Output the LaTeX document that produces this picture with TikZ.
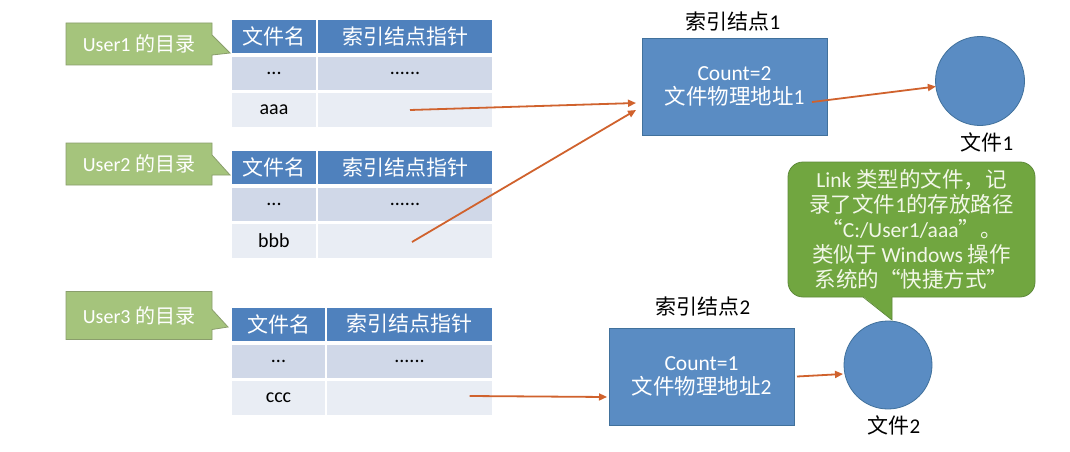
\documentclass[tikz,border=0pt]{standalone}
\usepackage{fontspec}
\setmainfont{Carlito}
\newfontfamily\cjkf{Noto Sans CJK SC}
\newcommand\zh[1]{{\cjkf #1}}
\usetikzlibrary{shapes.callouts,arrows.meta}
\definecolor{hdr}{HTML}{4F81BD}
\definecolor{rowa}{HTML}{D0D8E8}
\definecolor{rowb}{HTML}{E9EDF4}
\definecolor{nodeblue}{HTML}{5A8CC3}
\definecolor{nodeborder}{HTML}{41719C}
\definecolor{callg}{HTML}{A5C47C}
\definecolor{callgd}{HTML}{8A9E6C}
\definecolor{bigg}{HTML}{71A640}
\definecolor{biggd}{HTML}{5E8A3A}
\definecolor{biggtext}{HTML}{F2F7E8}
\definecolor{arr}{HTML}{D0622D}
\tikzset{
  base/.style={inner sep=0pt, outer sep=0pt, font=\fontsize{21}{25}\selectfont},
  hcell/.style={base, fill=hdr, text=white, minimum height=33pt},
  acell/.style={base, fill=rowa, text=black, minimum height=33pt, font=\fontsize{20}{24}\selectfont},
  bcell/.style={base, fill=rowb, text=black, minimum height=34pt, font=\fontsize{20}{24}\selectfont},
  dircall/.style={base, rectangle callout, fill=callg, draw=callgd, line width=0.8pt, text=white,
    minimum width=146pt, minimum height=42pt, callout pointer width=20pt, font=\fontsize{20}{24}\selectfont},
  inode/.style={base, fill=nodeblue, draw=nodeborder, line width=0.8pt, text=white, align=center,
    font=\fontsize{21.5}{24}\selectfont},
  filec/.style={base, circle, fill=nodeblue, draw=nodeborder, line width=0.8pt},
  lbl/.style={base, text=black, font=\fontsize{21}{25}\selectfont},
  conn/.style={draw=arr, line width=1.8pt, -{Triangle[length=8pt,width=7pt]}},
}
\begin{document}
\begin{tikzpicture}[x=1pt,y=-1pt]
\useasboundingbox[fill=white] (0,0) rectangle (1070,452);

% ---- Table 1
\node[hcell, minimum width=84pt]  (t1h1) at (274,36.5) {\zh{文件名}};
\node[hcell, minimum width=174pt] (t1h2) at (405,36.5) {\zh{索引结点指针}};
\node[acell, minimum width=84pt]  (t1a1) at (274,73.5) {...};
\node[acell, minimum width=174pt] (t1a2) at (405,73.5) {......};
\node[bcell, minimum width=84pt]  (t1b1) at (274,110) {aaa};
\node[bcell, minimum width=174pt] (t1b2) at (405,110) {};

% ---- Table 2
\node[hcell, minimum width=84pt]  (t2h1) at (274,167.5) {\zh{文件名}};
\node[hcell, minimum width=174pt] (t2h2) at (405,167.5) {\zh{索引结点指针}};
\node[acell, minimum width=84pt]  (t2a1) at (274,204.5) {...};
\node[acell, minimum width=174pt] (t2a2) at (405,204.5) {......};
\node[bcell, minimum width=84pt]  (t2b1) at (274,241) {bbb};
\node[bcell, minimum width=174pt] (t2b2) at (405,241) {};

% ---- Table 3
\node[hcell, minimum width=93pt]  (t3h1) at (278.5,324) {\zh{文件名}};
\node[hcell, minimum width=165pt] (t3h2) at (409.5,324) {\zh{索引结点指针}};
\node[acell, minimum width=93pt]  (t3a1) at (278.5,361.5) {...};
\node[acell, minimum width=165pt] (t3a2) at (409.5,361.5) {......};
\node[bcell, minimum width=93pt]  (t3b1) at (278.5,397.5) {ccc};
\node[bcell, minimum width=165pt] (t3b2) at (409.5,397.5) {};

% ---- Directory callouts
\node[dircall, callout absolute pointer={(230,53)}]  (u1) at (139,44)  {User1 \zh{的目录}};
\node[dircall, callout absolute pointer={(230,175)}] (u2) at (139,164) {User2 \zh{的目录}};
\node[dircall, callout absolute pointer={(228,327)}, minimum height=48pt] (u3) at (139,315.5) {User3 \zh{的目录}};

% ---- Index nodes
\node[inode, minimum width=185pt, minimum height=97pt] (i1) at (734.5,86.5)
  {Count=2\\\zh{文件物理地址}1};
\node[lbl] (i1l) at (733,22) {\zh{索引结点}1};
\node[inode, minimum width=185pt, minimum height=97pt] (i2) at (701.5,376.5)
  {Count=1\\\zh{文件物理地址}2};
\node[lbl] (i2l) at (703,307) {\zh{索引结点}2};

% ---- Files
\node[filec, minimum size=89pt] (f1) at (980,81) {};
\node[lbl] (f1l) at (987,142) {\zh{文件}1};
\node[filec, minimum size=88pt] (f2) at (888,365) {};
\node[lbl] (f2l) at (894,425) {\zh{文件}2};

% ---- Link callout
\node[base, fill=bigg, draw=biggd, line width=0.8pt, rounded corners=15pt,
  minimum width=247pt, minimum height=135pt] (lk) at (911.5,229.5) {};
\fill[bigg] (863,296.2) -- (892,320) -- (892,296.2) -- cycle;
\draw[biggd, line width=0.8pt] (863,297) -- (892,320) -- (892,297);
\node[base, text=biggtext, align=center, font=\fontsize{21.5}{25}\selectfont] (lkt) at (911.5,229)
  {Link \zh{类型的文件，记}\\
   \zh{录了文件}1\zh{的存放路径}\\
   \zh{“}C:/User1/aaa\zh{”。}\\
   \zh{类似于} Windows \zh{操作}\\
   \zh{系统的“快捷方式”}};

% ---- Connectors
\draw[conn] ([xshift=5pt]t1b2.center) -- ([xshift=-6pt,yshift=-16.5pt]i1.west);
\draw[conn] ([xshift=7pt,yshift=-1pt]t2b2.center) -- ([xshift=-6pt,yshift=-23.5pt]i1.west);
\draw[conn] ([xshift=-15pt,yshift=-15.5pt]i1.east) -- (f1);
\draw[conn] ([xshift=60pt,yshift=1.5pt]t3b2.center) -- ([xshift=-2pt,yshift=-20.5pt]i2.west);
\draw[conn] ([xshift=3pt]i2.east) -- ([xshift=-1pt,yshift=-9pt]f2.west);
\end{tikzpicture}
\end{document}
